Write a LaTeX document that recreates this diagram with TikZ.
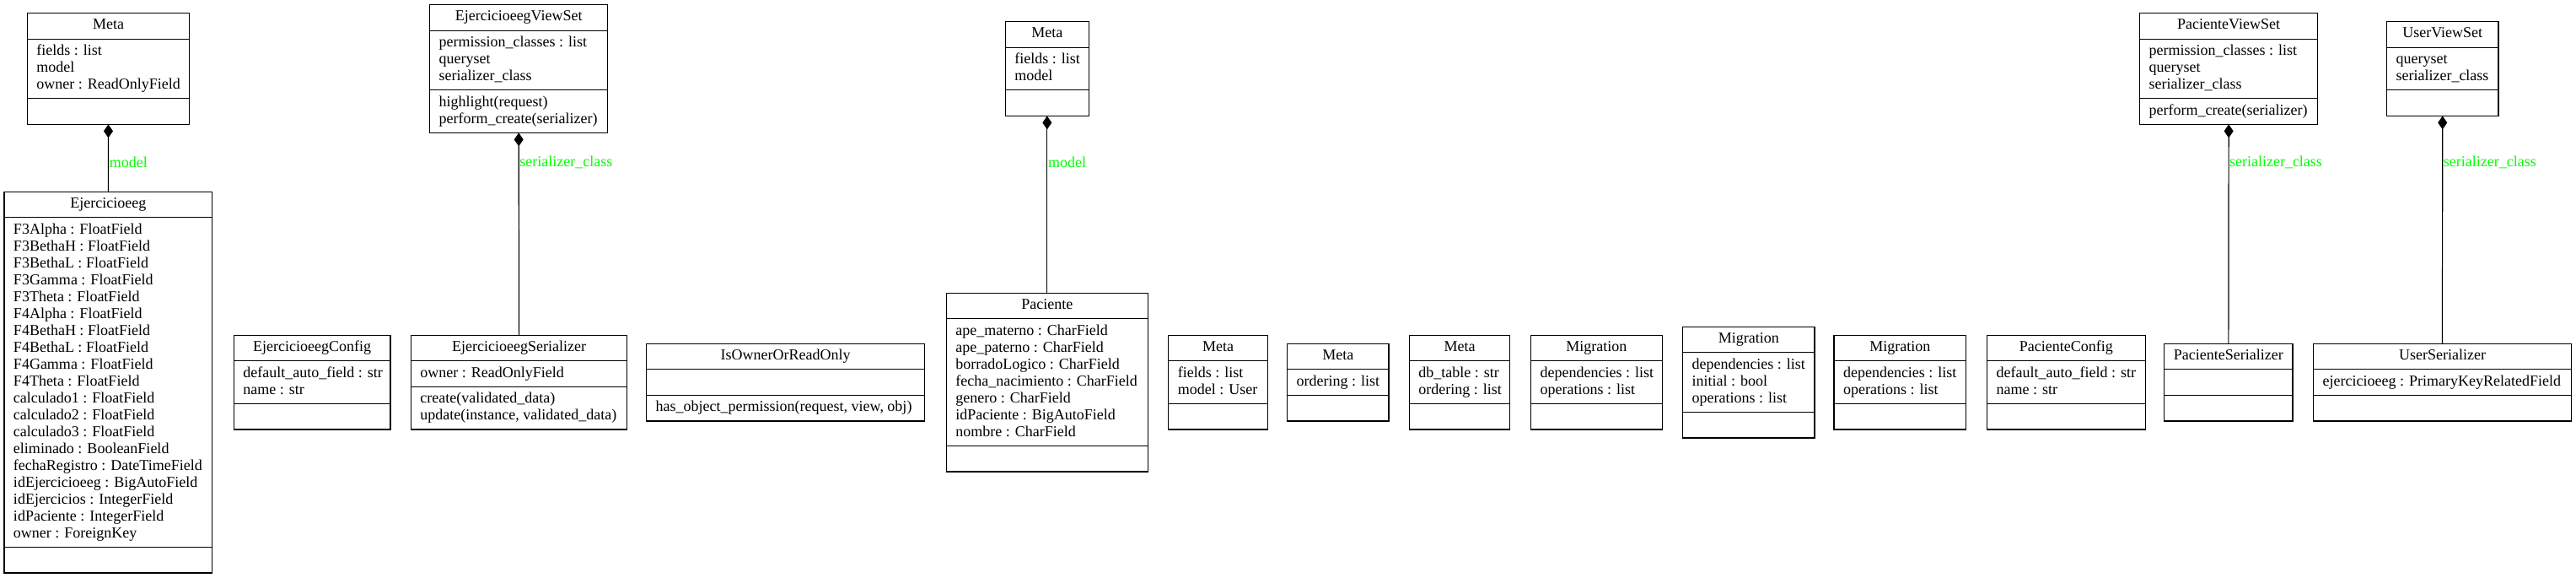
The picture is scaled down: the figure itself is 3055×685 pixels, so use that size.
\documentclass[tikz,border=0pt]{standalone}
\usepackage{fontspec}
\setmainfont{Liberation Serif}
\usetikzlibrary{arrows.meta}
\definecolor{lblgreen}{RGB}{0,255,0}
\tikzset{
  ttl/.style={draw, line width=1.2pt, outer sep=0pt, anchor=north, inner xsep=0pt, inner ysep=5.3pt, minimum height=30.6pt},
  sec/.style={draw, line width=1.2pt, outer sep=0pt, anchor=north, inner xsep=0pt, inner ysep=5.3pt, minimum height=30.6pt},
  comp/.style={line width=1.2pt, {Diamond[length=16pt,width=11pt]}-},
  lbl/.style={text=lblgreen, anchor=west, inner sep=0pt}
}
% #1 arraystretch, #2 name, #3 cx, #4 ytop, #5 width, #6 title, #7 attributes, #8 methods
\newcommand\umlcls[8][1]{%
  \node[ttl, minimum width=#5pt] (#2) at (#3,#4) {\strut #6};
  \node[sec, minimum width=#5pt] (#2-a) at (#2.south) {\renewcommand\arraystretch{#1}\makebox[\dimexpr#5pt-22pt\relax][l]{\begin{tabular}{@{}l@{}}#7\end{tabular}}};
  \node[sec, minimum width=#5pt] (#2-m) at (#2-a.south) {\makebox[\dimexpr#5pt-22pt\relax][l]{\begin{tabular}{@{}l@{}}#8\end{tabular}}};
}
\begin{document}
\begin{tikzpicture}[x=1pt, y=-1pt, font=\fontsize{18}{20}\selectfont]
\useasboundingbox (0,0) rectangle (3055,685);

% top row
\umlcls{meta1}{128.5}{15.6}{192.4}{Meta}{fields : list\\model\\owner : ReadOnlyField}{}
\umlcls{ejvs}{615.2}{5.6}{211}{EjercicioeegViewSet}{permission\_classes : list\\queryset\\serializer\_class}{highlight(request)\\perform\_create(serializer)}
\umlcls{meta2}{1241.8}{25.6}{99}{Meta}{fields : list\\model}{}
\umlcls{pvs}{2643.15}{15.6}{210.9}{PacienteViewSet}{permission\_classes : list\\queryset\\serializer\_class}{perform\_create(serializer)}
\umlcls{uvs}{2896.7}{25.6}{132.4}{UserViewSet}{queryset\\serializer\_class}{}

% bottom row
\umlcls{ejer}{128.35}{227.2}{246.7}{Ejercicioeeg}{F3Alpha : FloatField\\F3BethaH : FloatField\\F3BethaL : FloatField\\F3Gamma : FloatField\\F3Theta : FloatField\\F4Alpha : FloatField\\F4BethaH : FloatField\\F4BethaL : FloatField\\F4Gamma : FloatField\\F4Theta : FloatField\\calculado1 : FloatField\\calculado2 : FloatField\\calculado3 : FloatField\\eliminado : BooleanField\\fechaRegistro : DateTimeField\\idEjercicioeeg : BigAutoField\\idEjercicios : IntegerField\\idPaciente : IntegerField\\owner : ForeignKey}{}
\umlcls{ejconf}{370.1}{397.1}{185.6}{EjercicioeegConfig}{default\_auto\_field : str\\name : str}{}
\umlcls{ejser}{615.6}{397.1}{256.3}{EjercicioeegSerializer}{owner : ReadOnlyField}{create(validated\_data)\\update(instance, validated\_data)}
\umlcls{isowner}{931.7}{407.1}{330}{IsOwnerOrReadOnly}{}{has\_object\_permission(request, view, obj)}
\umlcls{paciente}{1241.8}{347.1}{239}{Paciente}{ape\_materno : CharField\\ape\_paterno : CharField\\borradoLogico : CharField\\fecha\_nacimiento : CharField\\genero : CharField\\idPaciente : BigAutoField\\nombre : CharField}{}
\umlcls{metau}{1444.65}{397.1}{117.7}{Meta}{fields : list\\model : User}{}
\umlcls{metao}{1586.85}{407.1}{120.3}{Meta}{ordering : list}{}
\umlcls{metadb}{1731.1}{397.1}{119.4}{Meta}{db\_table : str\\ordering : list}{}
\umlcls{mig1}{1893.45}{397.1}{155.5}{Migration}{dependencies : list\\operations : list}{}
\umlcls{mig2}{2073.75}{387.1}{156.5}{Migration}{dependencies : list\\initial : bool\\operations : list}{}
\umlcls{mig3}{2253.25}{397.1}{156.5}{Migration}{dependencies : list\\operations : list}{}
\umlcls{pconf}{2450.4}{397.1}{187.6}{PacienteConfig}{default\_auto\_field : str\\name : str}{}
\umlcls{pser}{2642.85}{407.1}{152.3}{PacienteSerializer}{}{}
\umlcls{user}{2896.5}{407.1}{305.6}{UserSerializer}{ejercicioeeg : PrimaryKeyRelatedField}{}

% connectors
\draw[comp] (meta1-m.south) -- (ejer.north);
\draw[comp] (ejvs-m.south) -- (ejser.north);
\draw[comp] (meta2-m.south) -- (paciente.north);
\draw[comp] (pvs-m.south) -- (pser.north);
\draw[comp] (uvs-m.south) -- (user.north);

% labels
\node[lbl] (lab1) at (129.6,192.7) {model};
\node[lbl] (lab2) at (616.2,192.7) {serializer\_class};
\node[lbl] (lab3) at (1242.8,192.7) {model};
\node[lbl] (lab4) at (2643.8,192.7) {serializer\_class};
\node[lbl] (lab5) at (2897.6,192.7) {serializer\_class};
\end{tikzpicture}
\end{document}
